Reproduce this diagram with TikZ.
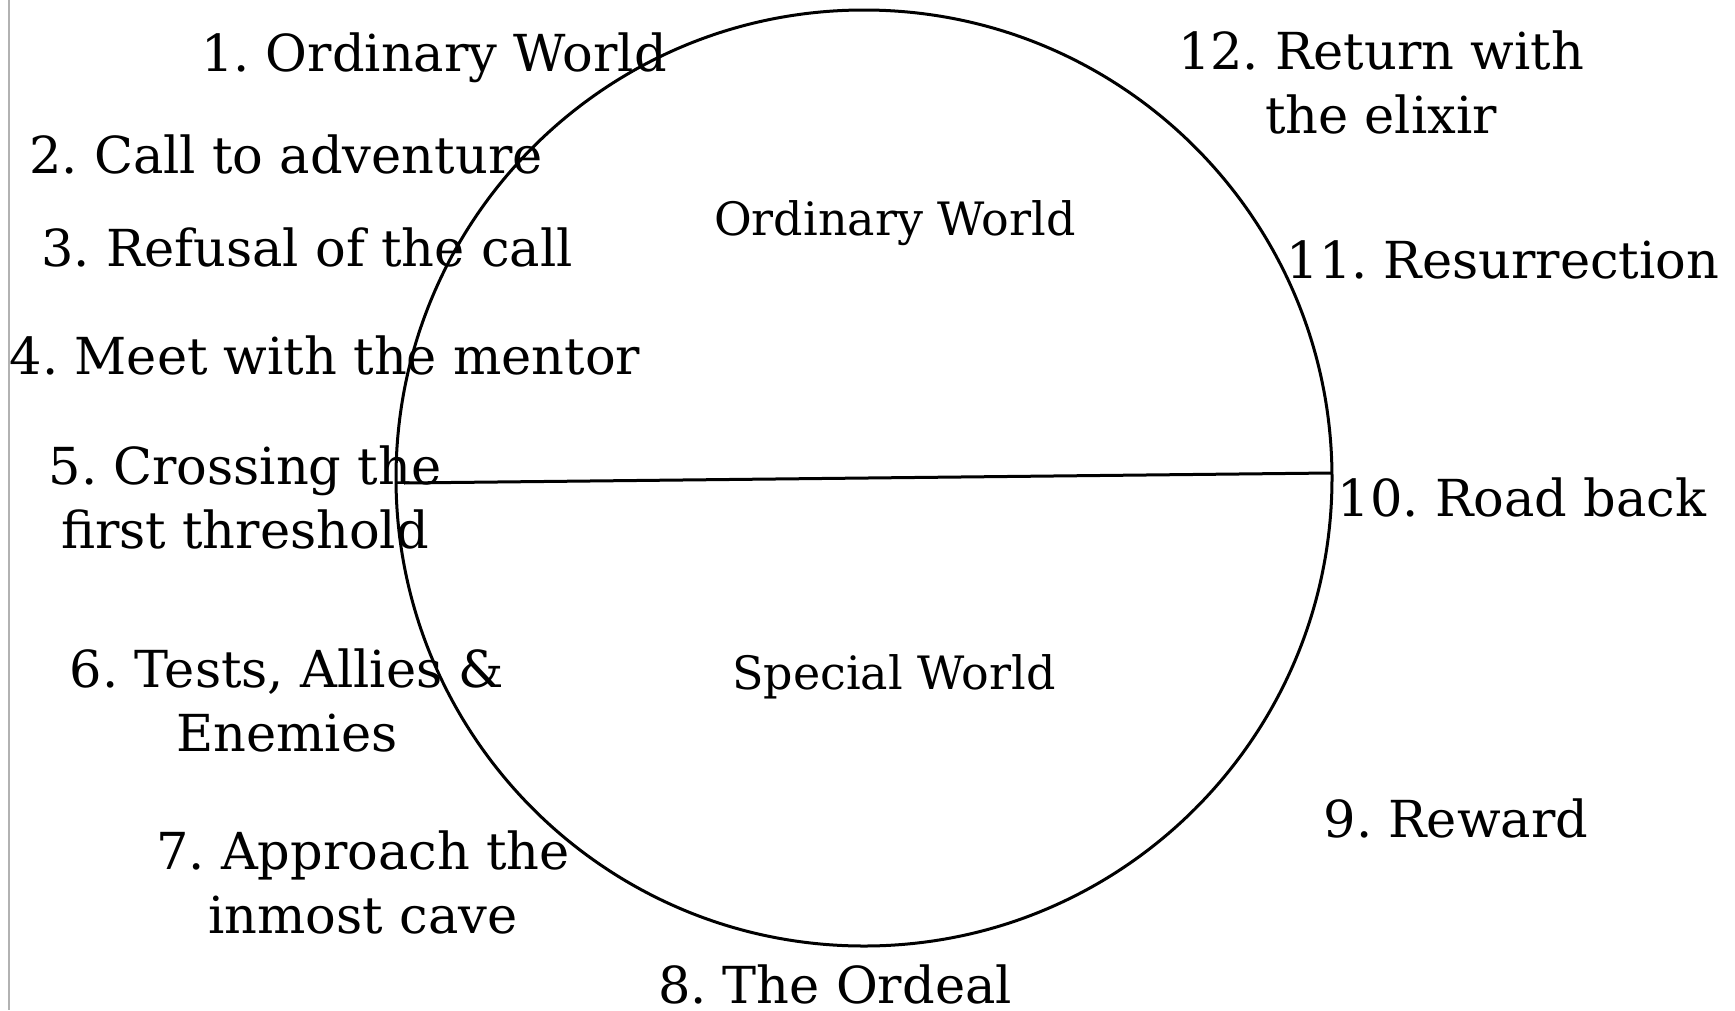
\documentclass[tikz,border=0pt]{standalone}
\usepackage{fontspec}
\setmainfont{DejaVu Serif}
\frenchspacing
\begin{document}
\begin{tikzpicture}[x=1pt,y=-1pt,
  lbl/.style={font=\fontsize{51}{64}\selectfont, align=center, inner sep=0pt, anchor=base},
  mid/.style={font=\fontsize{46}{54}\selectfont, inner sep=0pt, anchor=base},
  ring/.style={draw, circle, line width=3pt, minimum size=936pt, inner sep=0pt},
  divider/.style={line width=3pt},
  edge/.style={draw=gray!60, line width=1.2pt}]
\useasboundingbox (0,0) rectangle (1735,1010);
\coordinate (et) at (9,0);
\coordinate (eb) at (9,1010);
\draw[edge] (et) -- (eb);
\node[ring] (world) at (864,478) {};
\coordinate (dl) at (404,483);
\coordinate (dr) at (1331,473);
\draw[divider] (dl) -- (dr);
\node[mid] (ow) at (895,235) {Ordinary World};
\node[mid] (sw) at (894,689) {Special World};
\node[lbl] (s1) at (434,71) {1. Ordinary World};
\node[lbl] (s2) at (286,173) {2. Call to adventure};
\node[lbl] (s3) at (307,266) {3. Refusal of the call};
\node[lbl] (s4) at (325,374) {4. Meet with the mentor};
\node[lbl] (s5) at (245,548) {5. Crossing the\\first threshold};
\node[lbl] (s6) at (287,751) {6. Tests, Allies \&\\Enemies};
\node[lbl] (s7) at (363,933) {7. Approach the\\inmost cave};
\node[lbl] (s8) at (835,1003) {8. The Ordeal};
\node[lbl] (s9) at (1456,837) {9. Reward};
\node[lbl] (s10) at (1522,516) {10. Road back};
\node[lbl] (s11) at (1503,278) {11. Resurrection};
\node[lbl] (s12) at (1381,133) {12. Return with\\the elixir};
\end{tikzpicture}
\end{document}
